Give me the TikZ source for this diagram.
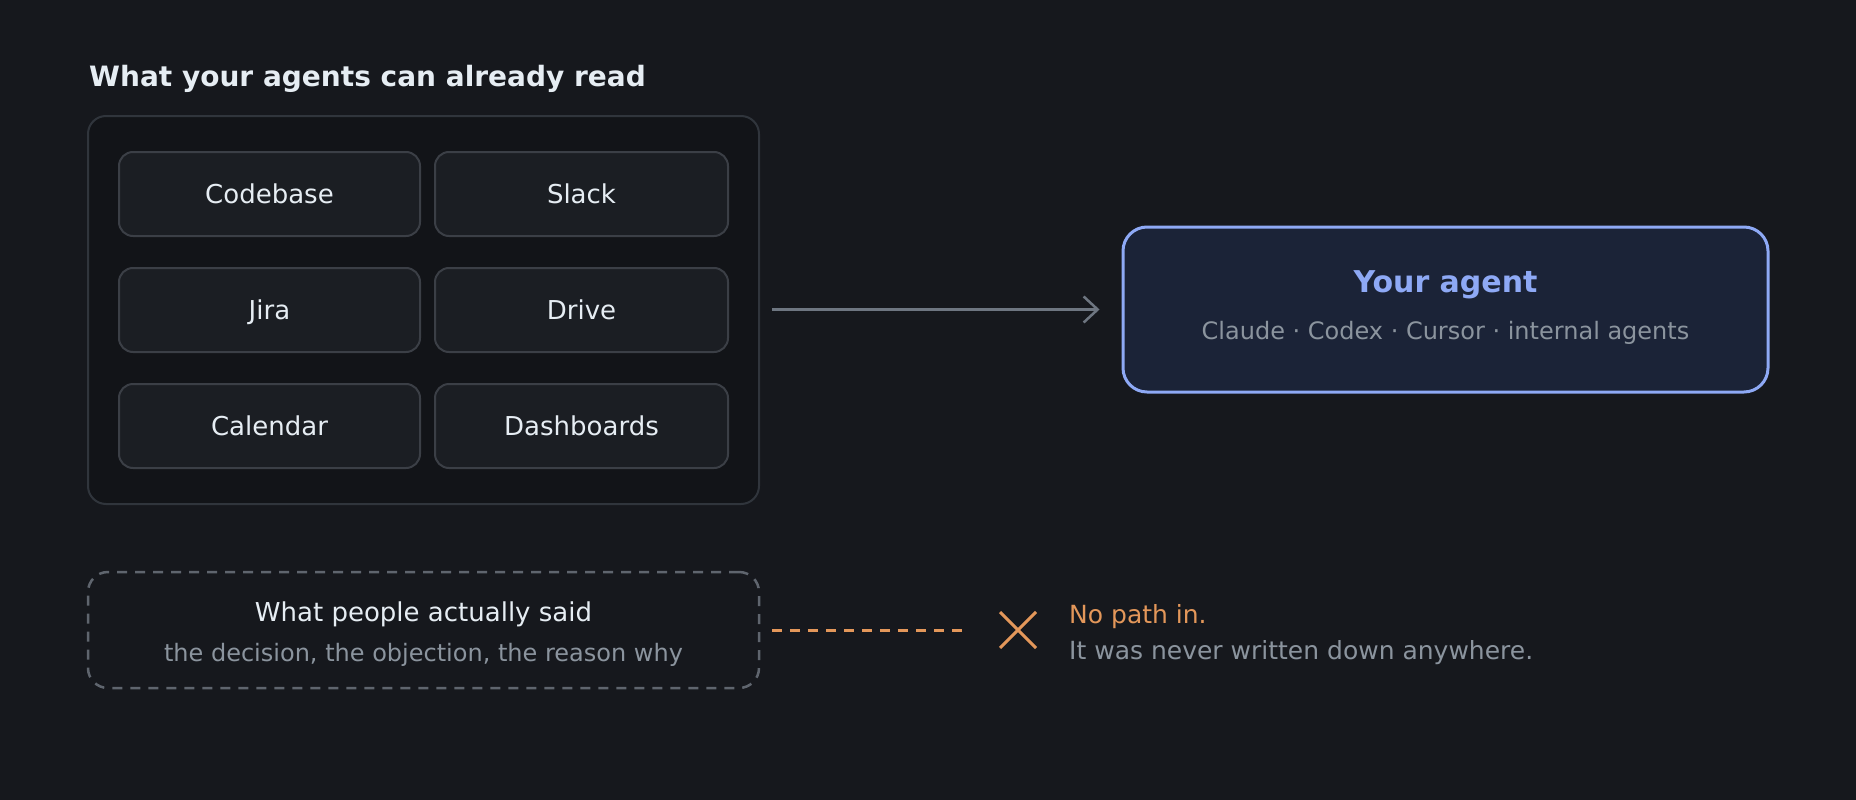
\documentclass[tikz,border=0pt]{standalone}
\usepackage{fontspec}
\setmainfont{DejaVu Sans}
\usetikzlibrary{arrows.meta}
\definecolor{bgc}{HTML}{16181D}
\definecolor{outerfill}{HTML}{121418}
\definecolor{outerline}{HTML}{30353C}
\definecolor{innerfill}{HTML}{1B1E23}
\definecolor{innerline}{HTML}{3B3F46}
\definecolor{agentfill}{HTML}{1B2337}
\definecolor{agentline}{HTML}{8EA9F5}
\definecolor{titlec}{HTML}{E6EDF3}
\definecolor{grayc}{HTML}{8B949E}
\definecolor{arrowc}{HTML}{6E7681}
\definecolor{dashc}{HTML}{5F656E}
\definecolor{orangec}{HTML}{E3975A}
\tikzset{
  outerbox/.style={draw=outerline, fill=outerfill, line width=2pt, rounded corners=18pt, minimum width=671pt, minimum height=388pt, inner sep=0pt},
  cell/.style={draw=innerline, fill=innerfill, line width=2pt, rounded corners=14pt, minimum height=84pt, inner sep=0pt, text=titlec, font=\fontsize{26}{30}\selectfont, text height=19pt, text depth=0pt},
  agentbox/.style={draw=agentline, fill=agentfill, line width=3pt, rounded corners=24pt, minimum width=645pt, minimum height=165pt, inner sep=0pt},
  dashbox/.style={draw=dashc, line width=2.5pt, dash pattern=on 10pt off 8pt, rounded corners=20pt, minimum width=671pt, minimum height=116pt, inner sep=0pt},
  lbl/.style={inner sep=0pt, anchor=base},
  lblw/.style={inner sep=0pt, anchor=base west},
}
\begin{document}
\begin{tikzpicture}[x=1pt,y=-1pt]
\fill[bgc] (0,0) rectangle (1856,800);
\useasboundingbox (0,0) rectangle (1856,800);

\node[lblw, text=titlec, font=\fontsize{28}{32}\selectfont\bfseries] (title) at (89,87) {What your agents can already read};

\node[outerbox] (grid) at (423.5,310) {};
\node[cell, minimum width=301pt] (codebase) at (269.5,194) {Codebase};
\node[cell, minimum width=293pt] (slack) at (581.5,194) {Slack};
\node[cell, minimum width=301pt] (jira) at (269.5,310) {Jira};
\node[cell, minimum width=293pt] (drive) at (581.5,310) {Drive};
\node[cell, minimum width=301pt] (calendar) at (269.5,426) {Calendar};
\node[cell, minimum width=293pt] (dash) at (581.5,426) {Dashboards};

\node[agentbox] (agent) at (1445.5,309.5) {};
\node[lbl, text=agentline, font=\fontsize{30}{34}\selectfont\bfseries] (agentt) at (1445.5,292) {Your agent};
\node[lbl, text=grayc, font=\fontsize{24}{28}\selectfont] (agents) at (1445.5,339) {Claude · Codex · Cursor · internal agents};

\draw[arrowc, line width=2.5pt, shorten <=12pt, shorten >=22pt, -{Straight Barb[length=14pt, width=26pt, line width=2.5pt]}] (grid.east |- agent.west) -- (agent.west);

\node[dashbox] (said) at (423.5,630) {};
\node[lbl, text=titlec, font=\fontsize{26}{30}\selectfont] (saidt) at (423.5,621.7) {What people actually said};
\node[lbl, text=grayc, font=\fontsize{24}{28}\selectfont] (saids) at (423.5,661) {the decision, the objection, the reason why};

\coordinate (xmark) at (1018,630);
\draw[orangec, line width=3pt, dash pattern=on 10pt off 8pt, shorten <=12pt, shorten >=56pt] (said.east) -- (xmark);
\draw[orangec, line width=3pt] ([shift={(-18,-18)}]xmark) -- ([shift={(18,18)}]xmark);
\draw[orangec, line width=3pt] ([shift={(-18,18)}]xmark) -- ([shift={(18,-18)}]xmark);

\node[lblw, text=orangec, font=\fontsize{25}{29}\selectfont] (nopath) at (1069,623) {No path in.};
\node[lblw, text=grayc, font=\fontsize{25}{29}\selectfont] (never) at (1069,659) {It was never written down anywhere.};
\end{tikzpicture}
\end{document}
